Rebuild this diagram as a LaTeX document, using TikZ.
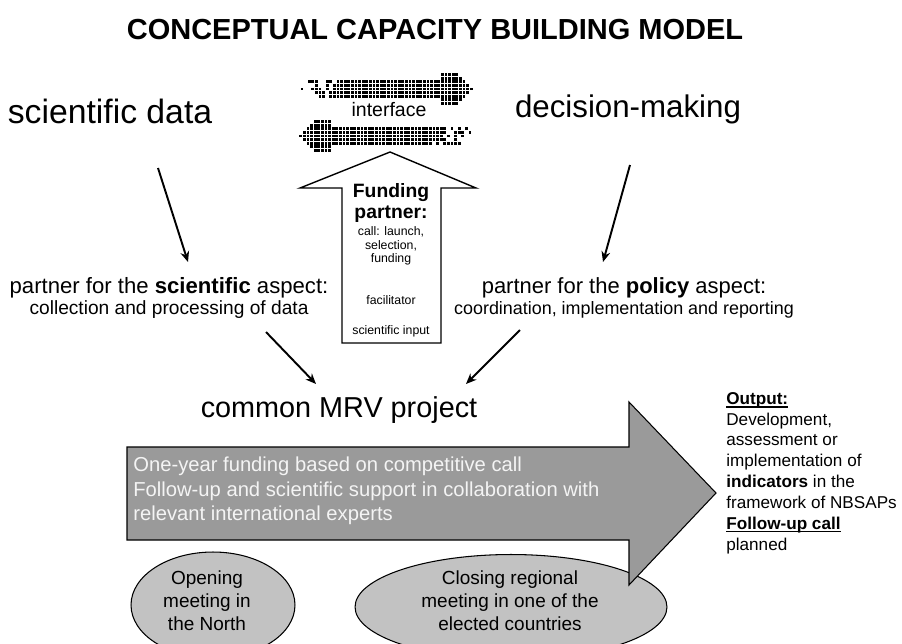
\documentclass[tikz,border=0pt]{standalone}
\usepackage{fontspec}
\setmainfont{Liberation Sans}
\usepackage{xcolor}
\usetikzlibrary{arrows.meta,shapes.geometric}
\definecolor{arrowgray}{HTML}{9A9A9A}
\definecolor{meetgray}{HTML}{C2C2C2}
\definecolor{arrowtext}{HTML}{F4F4F4}
\newsavebox\ulsave
\newcommand\ulined[1]{\sbox\ulsave{#1}\rlap{\rule[-1.8pt]{\wd\ulsave}{0.6pt}}\usebox\ulsave}
\tikzset{
	every node/.style={inner sep=0pt},
	partner/.style={align=center, font=\fontsize{10.9}{11.9}\selectfont},
	tiny/.style={align=center, font=\fontsize{7}{7.8}\selectfont},
	conn/.style={line width=1.1pt, -{Stealth[length=6pt,width=5pt]}},
	meeting/.style={ellipse, draw, fill=meetgray, line width=0.6pt},
	meettext/.style={align=center, font=\fontsize{10.8}{13}\selectfont}
}

\begin{document}
\begin{tikzpicture}[x=0.02cm, y=-0.02cm]
    \useasboundingbox (0,0) rectangle (902,643);
    \node[font=\bfseries\fontsize{16.5}{19}\selectfont] (title) at (435,30) {CONCEPTUAL CAPACITY BUILDING MODEL};
    \node[font=\fontsize{19.2}{22}\selectfont] (scidata) at (110,111) {scientific data};
    \node[font=\fontsize{17.8}{21}\selectfont] (decision) at (628,109) {decision-making};

    % interface arrows made of small squares
    \pgfmathsetseed{11}
    \foreach \ya/\dir/\xa in {89/1/302, 136/-1/470} {
        \foreach \c in {0,...,47} {
            \foreach \r in {-4,...,4} {
                \pgfmathtruncatemacro\h{\c<39 ? 2 : min(4,47-\c)}
                \pgfmathtruncatemacro\on{and(abs(\r)<=\h, or(\c>11, rnd<(\c+1)/13))}
                \ifnum\on=1
                    \fill[black] (\xa+\dir*3.6*\c-1.4, \ya+3.6*\r-1.4) rectangle +(2.8,2.8);
                \fi
            }
        }
    }
    \node[font=\fontsize{11.1}{13}\selectfont] (iface) at (389,110) {interface};

    % funding partner arrow
    \draw[line width=0.8pt, fill=white] (342,343) -- (342,188) -- (300,188) -- (390,152)
        -- (476,188) -- (441,188) -- (441,343) -- cycle;
    \node[align=center, font=\bfseries\fontsize{11}{12.5}\selectfont] (fundhead) at (391,203) {Funding\\partner:};
    \node[tiny] (fundtask) at (391,246) {call: launch,\\selection,\\funding};
    \node[tiny] (facil) at (391,300) {facilitator};
    \node[tiny] (input) at (391,331) {scientific input};

    \node[partner] (scipart) at (169,298) {{\fontsize{12.6}{11.9}\selectfont partner for the \textbf{scientific} aspect:}\\collection and processing of data};
    \node[partner] (polpart) at (624,298) {{\fontsize{12.5}{11.9}\selectfont partner for the \textbf{policy} aspect:}\\{\fontsize{10.2}{11.9}\selectfont coordination, implementation and reporting}};

    \coordinate (sdA) at (158,168);
    \coordinate (sdB) at (188,262);
    \coordinate (dmA) at (630,165);
    \coordinate (dmB) at (603,262);
    \coordinate (spA) at (266,332);
    \coordinate (spB) at (316,384);
    \coordinate (ppA) at (520,330);
    \coordinate (ppB) at (466,384);
    \draw[conn] (sdA) -- (sdB);
    \draw[conn] (dmA) -- (dmB);
    \draw[conn] (spA) -- (spB);
    \draw[conn] (ppA) -- (ppB);

    \node[font=\fontsize{16.4}{20}\selectfont] (mrv) at (339,410) {common MRV project};

    % meetings below the big arrow (cut by the lower edge)
    \node[meeting, minimum width=3.28cm, minimum height=2.12cm] (opening) at (213,605) {};
    \node[meettext] (opentext) at (207,601) {Opening\\meeting in\\the North};
    \node[meeting, minimum width=6.24cm, minimum height=2.1cm] (closing) at (511,607) {};
    \node[meettext] (closetext) at (510,601) {Closing regional\\meeting in one of the\\elected countries};

    % big project arrow
    \draw[line width=0.6pt, fill=arrowgray] (127,447) -- (629,447) -- (629,402) -- (716,493)
        -- (629,585) -- (629,540) -- (127,540) -- cycle;
    \node[anchor=west, align=left, text=arrowtext, font=\fontsize{11.5}{13.9}\selectfont] (mrvtext) at (133,491)
        {One-year funding based on competitive call\\Follow-up and scientific support in collaboration with\\relevant international experts};

    \node[anchor=west, align=left, font=\fontsize{9.75}{11.85}\selectfont] (output) at (726,473)
        {\ulined{\textbf{Output:}}\\Development,\\assessment or\\implementation of\\\textbf{indicators} in the\\framework of NBSAPs\\\ulined{\textbf{Follow-up call}}\\planned};
\end{tikzpicture}
\end{document}
